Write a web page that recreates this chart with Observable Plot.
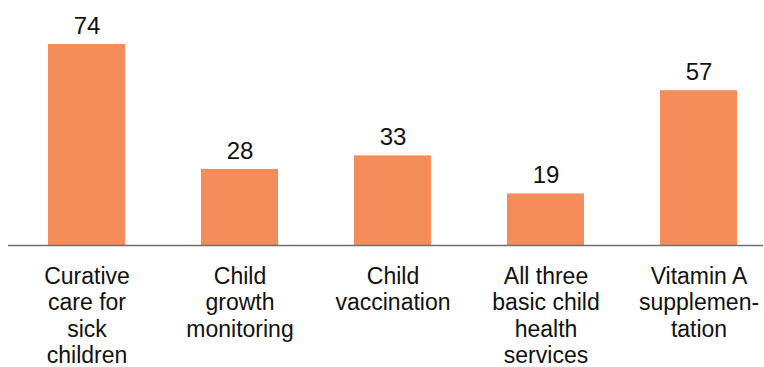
<!DOCTYPE html>
<html>
<head>
<meta charset="utf-8">
<script src="https://cdn.jsdelivr.net/npm/d3@7"></script>
<script src="https://cdn.jsdelivr.net/npm/@observablehq/plot@0.6"></script>
<style>
  html, body { margin: 0; padding: 0; background: #fff; }
  #chart svg { display: block; }
</style>
</head>
<body>
<div id="chart"></div>
<script>
const categories = ["Curative care for sick children", "Child growth monitoring", "Child vaccination", "All three basic child health services", "Vitamin A supplementation"];
const tickLabels = ["Curative\ncare for\nsick\nchildren", "Child\ngrowth\nmonitoring", "Child\nvaccination", "All three\nbasic child\nhealth\nservices", "Vitamin A\nsupplemen-\ntation"];
const values = [74, 28, 33, 19, 57];

const data = categories.map((c, i) => ({category: c, label: tickLabels[i], value: values[i]}));

const chart = Plot.plot({
  width: 764,
  height: 367,
  marginLeft: 8,
  marginRight: 1,
  marginTop: 44,
  marginBottom: 122,
  style: {fontFamily: "'Liberation Sans', Arial, Helvetica, sans-serif", color: "#111", background: "#fff"},
  x: {domain: categories, padding: 0.5, paddingOuter: 0.209, align: 0.6, axis: null},
  y: {domain: [0, 74], axis: null},
  marks: [
    Plot.barY(data, {x: "category", y: "value", fill: "#F58D5B"}),
    Plot.ruleY([0], {stroke: "#6f6f6f", strokeWidth: 1.5}),
    Plot.text(data, {x: "category", y: "value", text: d => String(d.value), lineAnchor: "bottom", dy: -10.5, fontSize: 24, fill: "#111"}),
    Plot.text(data, {x: "category", y: 0, text: "label", lineAnchor: "top", dy: 19.5, fontSize: 23, lineHeight: 1.15, fill: "#111"})
  ]
});
document.getElementById("chart").appendChild(chart);
</script>
</body>
</html>
